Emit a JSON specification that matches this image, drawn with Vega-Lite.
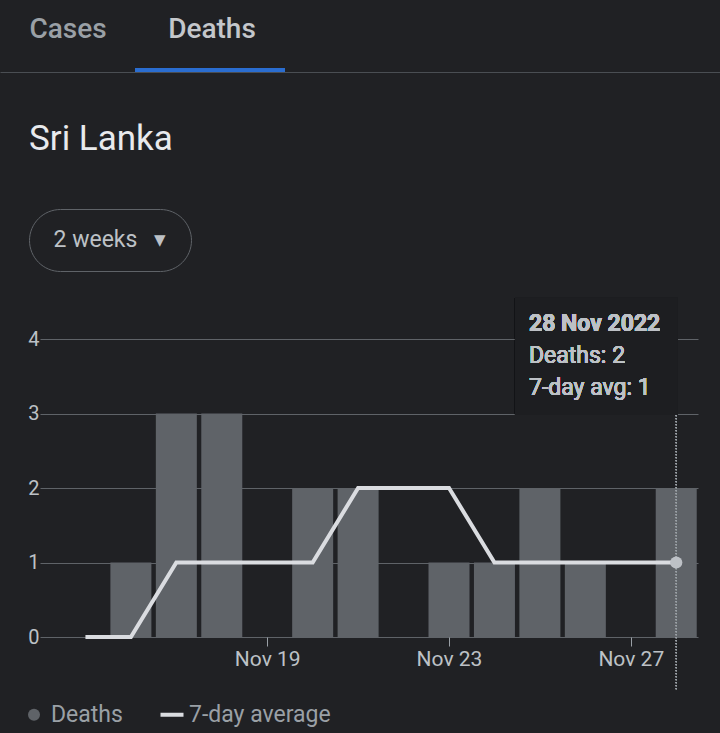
{
  "$schema": "https://vega.github.io/schema/vega-lite/v6.json",
  "background": "#202124",
  "padding": {"left": 0, "top": 0, "right": 0, "bottom": 8},
  "spacing": 25,
  "resolve": {"scale": {"color": "independent"}, "legend": {"color": "independent"}},
  "config": {
    "font": "Roboto",
    "view": {"stroke": null},
    "axis": {"labelFont": "Roboto"},
    "legend": {"labelFont": "Roboto"}
  },
  "vconcat": [
    {
      "width": 720,
      "height": 72,
      "data": {"values": [{"tab": "Cases", "sel": "no"}, {"tab": "Deaths", "sel": "yes"}]},
      "encoding": {
        "x": {
          "field": "tab",
          "type": "nominal",
          "scale": {"domain": ["Cases", "Deaths", "c", "d", "e"], "paddingInner": 0, "paddingOuter": 0},
          "axis": {"labels": false, "ticks": false, "grid": false, "title": null, "domain": true, "domainColor": "#4a4e53", "domainWidth": 1, "minExtent": 24, "maxExtent": 24}
        }
      },
      "layer": [
        {
          "mark": {"type": "text", "fontSize": 28, "fontWeight": 500, "baseline": "middle", "align": "center", "dx": -4},
          "encoding": {
            "y": {"datum": 10.5, "type": "quantitative", "scale": {"domain": [0, 18]}, "axis": null},
            "text": {"field": "tab"},
            "color": {"field": "sel", "type": "nominal", "scale": {"domain": ["no", "yes"], "range": ["#9aa0a6", "#c4c7cb"]}, "legend": null}
          }
        },
        {
          "transform": [{"filter": "datum.sel === 'yes'"}],
          "mark": {"type": "bar", "width": 150, "color": "#2a6dd0", "xOffset": -6},
          "encoding": {
            "y": {"datum": 0, "type": "quantitative"},
            "y2": {"datum": 1}
          }
        }
      ]
    },
    {
      "spacing": 0,
      "hconcat": [
        {"width": 0, "height": 0, "data": {"values": []}, "mark": "point"},
        {
          "width": 162,
          "height": 62,
          "title": {"text": "Sri Lanka", "anchor": "start", "frame": "group", "fontSize": 35, "fontWeight": 400, "color": "#e8eaed", "baseline": "alphabetic", "offset": 24, "font": "Roboto"},
          "view": {"stroke": "#5f6368", "strokeWidth": 1, "cornerRadius": 31},
          "data": {"values": [{"label": "2 weeks"}]},
          "mark": {"type": "text", "fontSize": 23, "color": "#bdc1c6", "align": "center", "baseline": "middle"},
          "encoding": {
            "y": {"datum": 0.5, "type": "quantitative", "scale": {"domain": [0, 1]}, "axis": {"labels": false, "ticks": false, "domain": false, "grid": false, "title": null, "minExtent": 8, "maxExtent": 8}},
            "text": {"value": "2 weeks\u00a0\u00a0\u00a0▾"}
          }
        }
      ]
    },
    {
      "spacing": 0,
      "hconcat": [
        {"width": 0, "height": 0, "data": {"values": []}, "mark": "point"},
        {
          "width": 658,
          "height": 298,
          "data": {"values": [
            {"date": "2022-11-15", "deaths": 0, "avg": 0},
            {"date": "2022-11-16", "deaths": 1, "avg": 0},
            {"date": "2022-11-17", "deaths": 3, "avg": 1},
            {"date": "2022-11-18", "deaths": 3, "avg": 1},
            {"date": "2022-11-19", "deaths": 0, "avg": 1},
            {"date": "2022-11-20", "deaths": 2, "avg": 1},
            {"date": "2022-11-21", "deaths": 2, "avg": 2},
            {"date": "2022-11-22", "deaths": 0, "avg": 2},
            {"date": "2022-11-23", "deaths": 1, "avg": 2},
            {"date": "2022-11-24", "deaths": 1, "avg": 1},
            {"date": "2022-11-25", "deaths": 2, "avg": 1},
            {"date": "2022-11-26", "deaths": 1, "avg": 1},
            {"date": "2022-11-27", "deaths": 0, "avg": 1},
            {"date": "2022-11-28", "deaths": 2, "avg": 1}
          ]},
          "encoding": {
            "x": {
              "field": "date",
              "type": "temporal",
              "scale": {"type": "utc", "nice": false, "padding": 0, "domain": [
                {"year": 2022, "month": 11, "date": 14, "utc": true},
                {"year": 2022, "month": 11, "date": 28, "hours": 11, "minutes": 30, "utc": true}
              ]},
              "axis": {
                "title": null,
                "grid": false,
                "domain": false,
                "values": [
                  {"year": 2022, "month": 11, "date": 19, "utc": true},
                  {"year": 2022, "month": 11, "date": 23, "utc": true},
                  {"year": 2022, "month": 11, "date": 27, "utc": true}
                ],
                "format": "%b %-d",
                "labelColor": "#bdc1c6",
                "labelFontSize": 21,
                "labelPadding": 2,
                "tickColor": "#9aa0a6",
                "tickSize": 9,
                "tickWidth": 1
              }
            }
          },
          "layer": [
            {
              "mark": {"type": "bar", "width": 41},
              "encoding": {
                "y": {
                  "field": "deaths",
                  "type": "quantitative",
                  "scale": {"domain": [0, 4], "nice": false},
                  "axis": {"title": null, "values": [0, 1, 2, 3, 4], "format": "d", "grid": true, "gridColor": "#5f6368", "gridWidth": 1, "ticks": false, "domain": false, "labelColor": "#bdc1c6", "labelFontSize": 20, "labelPadding": 1, "minExtent": 20, "maxExtent": 20}
                },
                "color": {
                  "datum": "Deaths",
                  "type": "nominal",
                  "scale": {"domain": ["Deaths", "7-day average"], "range": ["#5f6368", "#dadce0"]},
                  "legend": {
                    "title": null,
                    "orient": "bottom",
                    "direction": "horizontal",
                    "labelColor": "#9aa0a6",
                    "labelFontSize": 23,
                    "labelOffset": 5.5,
                    "columnPadding": 15,
                    "symbolSize": 529,
                    "symbolOffset": 22.5,
                    "offset": 13,
                    "encode": {
                      "symbols": {
                        "update": {
                          "shape": {"signal": "datum.value === 'Deaths' ? 'circle' : 'stroke'"},
                          "size": {"signal": "datum.value === 'Deaths' ? 144 : 529"},
                          "strokeWidth": {"signal": "datum.value === 'Deaths' ? 0 : 4"},
                          "fill": {"signal": "datum.value === 'Deaths' ? '#5f6368' : 'transparent'"},
                          "stroke": {"signal": "datum.value === 'Deaths' ? 'transparent' : '#e8eaed'"},
                          "opacity": {"value": 1}
                        }
                      }
                    }
                  }
                }
              }
            },
            {
              "mark": {"type": "line", "strokeWidth": 4, "strokeCap": "butt"},
              "encoding": {
                "y": {"field": "avg", "type": "quantitative"},
                "color": {"datum": "7-day average", "type": "nominal"}
              }
            },
            {
              "mark": {"type": "rule", "color": "#9aa0a6", "strokeWidth": 1, "strokeDash": [1, 2]},
              "encoding": {
                "x": {"datum": {"year": 2022, "month": 11, "date": 28, "utc": true}, "type": "temporal"},
                "y": {"datum": -0.7, "type": "quantitative"},
                "y2": {"datum": 2.98}
              }
            },
            {
              "transform": [{"filter": "time(datum.date) === utc(2022, 10, 28)"}],
              "mark": {"type": "point", "filled": true, "size": 150, "color": "#bdc1c6", "opacity": 1},
              "encoding": {
                "y": {"field": "avg", "type": "quantitative"}
              }
            },
            {
              "mark": {"type": "rect", "color": "#1d1e21"},
              "encoding": {
                "x": {"datum": {"year": 2022, "month": 11, "date": 24, "hours": 10, "minutes": 51, "utc": true}, "type": "temporal"},
                "x2": {"datum": {"year": 2022, "month": 11, "date": 28, "hours": 0, "minutes": 56, "utc": true}},
                "y": {"datum": 4.56, "type": "quantitative"},
                "y2": {"datum": 2.98}
              }
            },
            {
              "mark": {"type": "text", "fontSize": 23, "fontWeight": "bold", "color": "#bdc1c6", "align": "left", "baseline": "middle"},
              "encoding": {
                "x": {"datum": {"year": 2022, "month": 11, "date": 24, "hours": 18, "minutes": 15, "utc": true}, "type": "temporal"},
                "y": {"datum": 4.197, "type": "quantitative"},
                "text": {"value": "28 Nov 2022"}
              }
            },
            {
              "mark": {"type": "text", "fontSize": 23, "color": "#bdc1c6", "align": "left", "baseline": "middle"},
              "encoding": {
                "x": {"datum": {"year": 2022, "month": 11, "date": 24, "hours": 18, "minutes": 15, "utc": true}, "type": "temporal"},
                "y": {"datum": 3.768, "type": "quantitative"},
                "text": {"value": "Deaths: 2"}
              }
            },
            {
              "mark": {"type": "text", "fontSize": 23, "color": "#bdc1c6", "align": "left", "baseline": "middle"},
              "encoding": {
                "x": {"datum": {"year": 2022, "month": 11, "date": 24, "hours": 18, "minutes": 15, "utc": true}, "type": "temporal"},
                "y": {"datum": 3.338, "type": "quantitative"},
                "text": {"value": "7-day avg: 1"}
              }
            }
          ]
        }
      ]
    }
  ]
}
